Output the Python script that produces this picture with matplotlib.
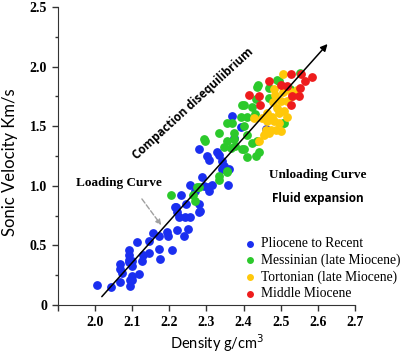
import matplotlib
matplotlib.use('Agg')
import matplotlib.pyplot as plt
from matplotlib.ticker import MultipleLocator

# dados
blue_x = [2.005, 2.043, 2.068, 2.068, 2.072, 2.068, 2.09, 2.09, 2.093, 2.095, 2.099, 2.10, 2.10,
          2.117, 2.114, 2.126, 2.13, 2.144, 2.144, 2.156, 2.171, 2.174, 2.171, 2.194, 2.196, 2.208,
          2.221, 2.24, 2.249, 2.216, 2.221, 2.225, 2.246, 2.243, 2.255, 2.28, 2.28, 2.255, 2.27,
          2.293, 2.305, 2.092, 2.23, 2.219, 2.282, 2.306, 2.315, 2.357, 2.28, 2.306, 2.329, 2.302,
          2.333, 2.342, 2.347, 2.369, 2.392, 2.374, 2.459, 2.36, 2.342, 2.288, 2.09, 2.099]
blue_y = [0.17, 0.15, 0.34, 0.30, 0.27, 0.19, 0.46, 0.42, 0.21, 0.16, 0.24, 0.33, 0.37,
          0.26, 0.53, 0.37, 0.42, 0.44, 0.54, 0.60, 0.47, 0.39, 0.58, 0.61, 0.58, 0.46,
          0.63, 0.58, 0.64, 0.82, 0.78, 0.74, 0.85, 0.74, 0.74, 0.85, 0.78, 1.01, 0.96,
          1.00, 0.99, 0.38, 0.925, 0.825, 0.79, 0.96, 1.01, 1.01, 1.31, 1.22, 1.28, 1.25,
          1.26, 1.21, 1.17, 1.59, 1.49, 1.40, 1.48, 1.14, 1.14, 1.07, 0.36, 0.21]

green_x = [2.551, 2.495, 2.437, 2.468, 2.525, 2.432, 2.468, 2.40, 2.423, 2.392, 2.41, 2.43,
           2.356, 2.369, 2.40, 2.41, 2.374, 2.333, 2.297, 2.356, 2.374, 2.347, 2.365, 2.40,
           2.423, 2.507, 2.441, 2.41, 2.432, 2.378, 2.356, 2.333, 2.205, 2.264, 2.275, 2.27,
           2.28, 2.356, 2.333, 2.293, 2.396, 2.437, 2.44, 2.49, 2.396, 2.509]
green_y = [1.95, 1.88, 1.83, 1.82, 1.81, 1.73, 1.735, 1.68, 1.66, 1.58, 1.58, 1.60,
           1.53, 1.53, 1.50, 1.43, 1.44, 1.44, 1.38, 1.375, 1.39, 1.325, 1.32, 1.31,
           1.36, 1.53, 1.28, 1.24, 1.25, 1.33, 1.125, 1.08, 0.92, 0.92, 0.99, 0.875,
           0.99, 1.12, 1.05, 1.39, 1.31, 1.375, 1.85, 1.89, 1.68, 1.53]

yellow_x = [2.507, 2.482, 2.484, 2.505, 2.527, 2.529, 2.516, 2.50, 2.491, 2.495, 2.509, 2.464,
            2.477, 2.45, 2.464, 2.482, 2.495, 2.46, 2.473, 2.486, 2.455, 2.468, 2.50, 2.441,
            2.518, 2.428, 2.545, 2.478]
yellow_y = [1.94, 1.81, 1.76, 1.79, 1.79, 1.75, 1.71, 1.71, 1.65, 1.61, 1.625, 1.61,
            1.58, 1.57, 1.54, 1.54, 1.53, 1.47, 1.47, 1.47, 1.43, 1.44, 1.46, 1.375,
            1.58, 1.57, 1.80, 1.70]

red_x = [2.527, 2.554, 2.468, 2.565, 2.50, 2.518, 2.552, 2.415, 2.441, 2.529, 2.549, 2.444, 2.527, 2.585]
red_y = [1.94, 1.94, 1.88, 1.88, 1.85, 1.84, 1.82, 1.76, 1.75, 1.75, 1.75, 1.68, 1.68, 1.91]

# linha de tendencia (inicio e fim da seta)
trend_x = [2.018, 2.626]
trend_y = [0.07, 2.19]

fig = plt.figure(figsize=(4.0, 3.53), dpi=100)
ax = fig.add_axes([0.145, 0.136, 0.7425, 0.844])

ax.scatter(blue_x, blue_y, s=28, color='#1a2ef0', label='Pliocene to Recent', zorder=2)
ax.scatter(green_x, green_y, s=28, color='#2bc92b', label='Messinian (late Miocene)', zorder=2)
ax.scatter(yellow_x, yellow_y, s=28, color='#ffc80a', label='Tortonian (late Miocene)', zorder=2)
ax.scatter(red_x, red_y, s=28, color='#ee1c1c', label='Middle Miocene', zorder=2)

ax.annotate('', xy=(trend_x[1], trend_y[1]), xytext=(trend_x[0], trend_y[0]),
            arrowprops=dict(arrowstyle='-|>', color='black', lw=1.1,
                            mutation_scale=10, shrinkA=0, shrinkB=0), zorder=3)
ax.annotate('', xy=(2.178, 0.67), xytext=(2.126, 0.89),
            arrowprops=dict(arrowstyle='-|>', color='#a0a0a0', lw=1.0, ls='--',
                            mutation_scale=8, shrinkA=0, shrinkB=0), zorder=3)

serif = 'Liberation Serif'
ax.text(2.065, 1.02, 'Loading Curve', fontfamily=serif, fontweight='bold', fontsize=9.5,
        ha='center', va='center')
ax.text(2.6, 1.09, 'Unloading Curve', fontfamily=serif, fontweight='bold', fontsize=9.5,
        ha='center', va='center')
ax.text(2.6, 0.89, 'Fluid expansion', fontfamily='Open Sans', fontweight='bold', fontsize=8.5,
        ha='center', va='center')
ax.text(2.265, 1.69, 'Compaction disequilibrium', fontfamily='Open Sans', fontweight='bold',
        fontsize=8.5, ha='center', va='center', rotation=42.5, rotation_mode='anchor')

ax.set_xlim(1.9, 2.7)
ax.set_ylim(0, 2.5)
ax.set_xticks([1.9, 2.0, 2.1, 2.2, 2.3, 2.4, 2.5, 2.6, 2.7])
ax.set_xticklabels(['', '2.0', '2.1', '2.2', '2.3', '2.4', '2.5', '2.6', '2.7'])
ax.set_yticks([0, 0.5, 1.0, 1.5, 2.0, 2.5])
ax.set_yticklabels(['0', '0.5', '1.0', '1.5', '2.0', '2.5'])
ax.yaxis.set_minor_locator(MultipleLocator(0.25))
for lab in ax.get_xticklabels() + ax.get_yticklabels():
    lab.set_fontfamily(serif)
    lab.set_fontweight('bold')
    lab.set_fontsize(10)
ax.tick_params(direction='out', length=4, width=1, color='#333333', pad=4)
ax.tick_params(which='minor', direction='out', length=2.5, width=1, color='#333333')
ax.spines['top'].set_visible(False)
ax.spines['right'].set_visible(False)
ax.spines['left'].set_color('#333333')
ax.spines['bottom'].set_color('#333333')

ax.set_ylabel('Sonic Velocity Km/s', fontfamily='Lato', fontsize=12)
ax.yaxis.set_label_coords(-0.135, 0.48)
ax.set_xlabel('Density g/cm$^3$', fontfamily='Lato', fontsize=10.5)
ax.xaxis.set_label_coords(0.535, -0.092)

ax.legend(loc='upper left', bbox_to_anchor=(0.6, 0.246), frameon=False,
          prop={'family': serif, 'size': 9.8}, markerscale=0.75, handlelength=1.2,
          handletextpad=0.2, labelspacing=0.25, borderaxespad=0.0)

plt.savefig('out.png', dpi=100)
